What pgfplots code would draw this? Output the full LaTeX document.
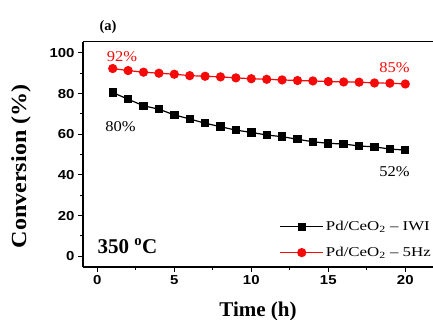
\documentclass[border=0pt]{standalone}
\usepackage{fontspec}
\setmainfont{Liberation Serif}
\newfontfamily\tickfont{Liberation Sans}[FakeStretch=1.15]
\newfontfamily\legfont{Liberation Serif}[FakeStretch=1.25]
\newfontfamily\pctfont{Liberation Serif}[FakeStretch=1.1]
\newfontfamily\labfont{Liberation Serif}[FakeStretch=1.12]
\usepackage{pgfplots}
\pgfplotsset{compat=1.18}
\definecolor{myred}{RGB}{245,10,10}
\begin{document}
\begin{tikzpicture}
\begin{axis}[
  name=ax,
  scale only axis,
  width=350pt, height=225.3pt,
  xmin=-0.93, xmax=21.8,
  ymin=-5.3, ymax=105.5,
  axis x line*=bottom, axis y line*=left,
  axis line style={-, line width=1.1pt},
  xtick={0,5,10,15,20}, minor xtick={2.5,7.5,12.5,17.5},
  ytick={0,20,40,60,80,100}, minor ytick={10,30,50,70,90},
  tick align=outside,
  major tick length=5pt, minor tick length=3pt,
  tick style={line width=1pt, black},
  /pgf/number format/assume math mode=true,
  ticklabel style={font=\tickfont\bfseries\fontsize{13}{13}\selectfont},
  xlabel={\bfseries Time (h)},
  ylabel={\bfseries Conversion (\%)},
  xlabel style={font=\fontsize{21}{21}\selectfont, at={(rel axis cs:0.5,0)}, anchor=center, yshift=-44pt},
  ylabel style={font=\labfont\fontsize{21.5}{21.5}\selectfont, at={(rel axis cs:0,0.5)}, anchor=center, xshift=-12pt, yshift=62pt},
  clip=false,
  legend style={at={(rel axis cs:1,0.03)}, anchor=south east, draw=none, fill=none,
    font=\legfont\fontsize{13.5}{13.5}\selectfont, row sep=11pt, inner sep=0pt,
    /tikz/every even column/.append style={column sep=0pt}},
  legend cell align=left,
  legend image code/.code={\draw[mark repeat=2,mark phase=2,#1] plot coordinates {(0cm,0cm)(0.76cm,0cm)(1.52cm,0cm)};},
]
\draw[line width=1.1pt] (rel axis cs:0,1) -- (rel axis cs:1,1);
\addplot[black, line width=1.2pt, mark=square*, mark size=3.6pt] coordinates {
(1,80.5)(2,77.2)(3,74)(4,72.3)(5,69.5)(6,67.5)(7,65.4)(8,63.7)(9,62)(10,60.9)
(11,59.6)(12,58.8)(13,57.5)(14,56.3)(15,55.5)(16,55.2)(17,54.2)(18,53.8)(19,52.7)(20,52.2)};
\addlegendentry{Pd/CeO\textsubscript{2} – IWI}
\addplot[myred, line width=1.2pt, mark=*, mark size=4pt] coordinates {
(1,92.3)(2,91.3)(3,90.5)(4,90)(5,89.5)(6,88.8)(7,88.5)(8,88.2)(9,87.7)(10,87.3)
(11,87)(12,86.7)(13,86.4)(14,86.2)(15,85.9)(16,85.7)(17,85.6)(18,85.2)(19,85.1)(20,84.7)};
\addlegendentry{Pd/CeO\textsubscript{2} – 5Hz}
\node[myred, font=\pctfont\fontsize{15}{15}\selectfont] at (axis cs:1.6,98) {92\%};
\node[myred, font=\pctfont\fontsize{15}{15}\selectfont] at (axis cs:19.3,93) {85\%};
\node[black, font=\pctfont\fontsize{15}{15}\selectfont] at (axis cs:1.5,63.5) {80\%};
\node[black, font=\pctfont\fontsize{15}{15}\selectfont] at (axis cs:19.3,41.4) {52\%};
\node[anchor=west, inner sep=0pt, font=\bfseries\fontsize{21}{21}\selectfont] at (axis cs:0,5) {350 \textsuperscript{o}C};
\node[font=\bfseries\fontsize{14.5}{14.5}\selectfont] at (axis cs:0.7,112.8) {(a)};
\end{axis}
\pgfresetboundingbox
\path[use as bounding box] ([shift={(-83pt,-53pt)}]ax.south west) rectangle ([shift={(0pt,41.7pt)}]ax.north east);
\end{tikzpicture}
\end{document}
